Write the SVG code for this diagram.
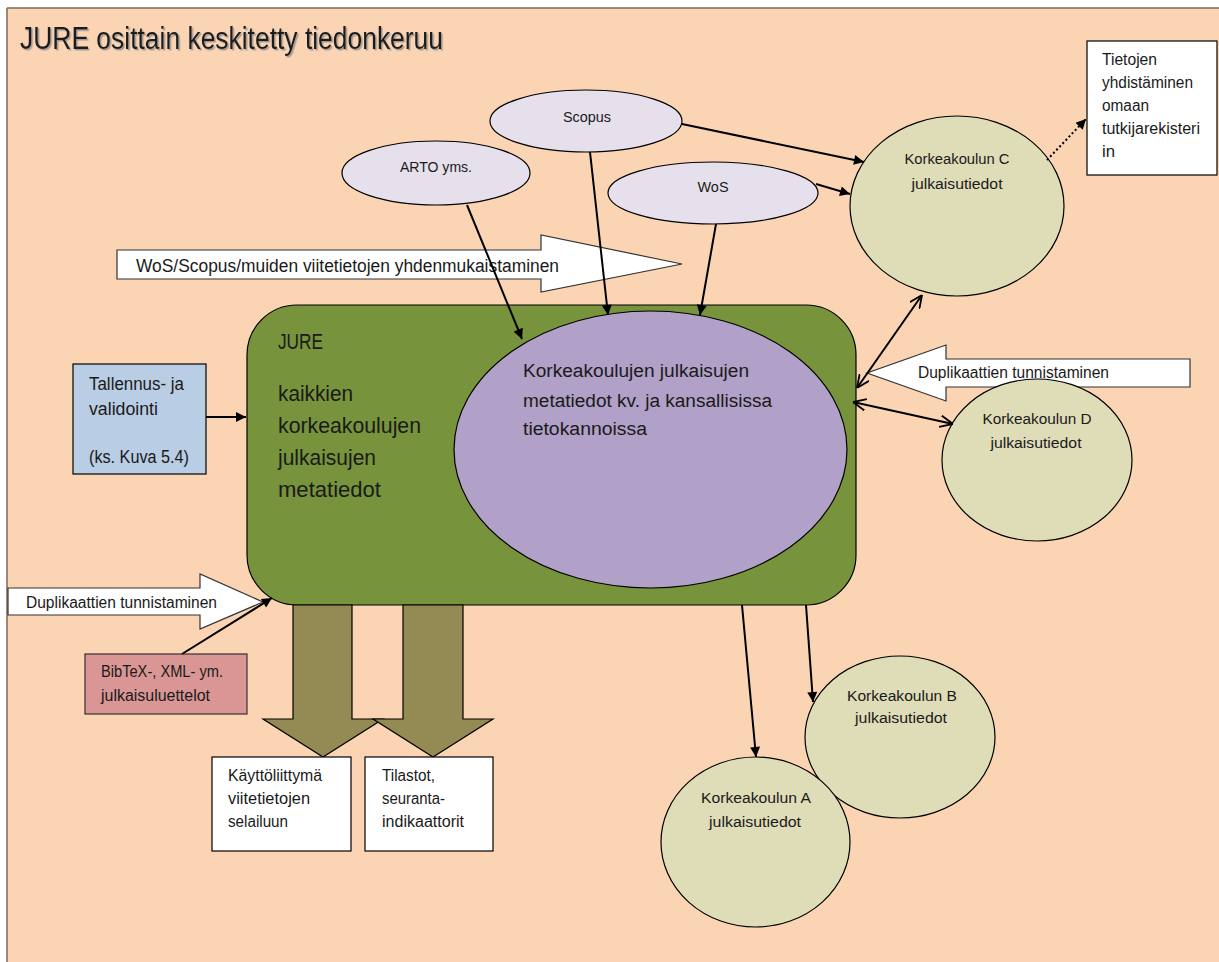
<svg xmlns="http://www.w3.org/2000/svg" width="1219" height="962" viewBox="0 0 1219 962">
<defs>
<style>
text{font-family:"Liberation Sans",Arial,sans-serif;fill:#1a1a1a}
.s14{font-size:15.5px}
.s15{font-size:16px}
.s16{font-size:17.5px}
.s18{font-size:18px}
.s19{font-size:18px}
.s20{font-size:21.5px}
.mid{text-anchor:middle}
.ln{stroke:#000;stroke-width:2;fill:none}
.src{fill:#E6E0EC;stroke:#000;stroke-width:1.2}
.uni{fill:#DFDCB8;stroke:#000;stroke-width:1.2}
.box{fill:#fff;stroke:#000;stroke-width:1.2}
.band{fill:#fff;stroke:#333;stroke-width:1.2}
.down{fill:#948A54;stroke:#000;stroke-width:1.2}
</style>
<marker id="ah" viewBox="0 0 10 10" refX="10" refY="5" markerWidth="12" markerHeight="10" markerUnits="userSpaceOnUse" orient="auto"><path d="M0,0 L10,5 L0,10 z" fill="#000"/></marker>
<marker id="oh" viewBox="0 0 10 10" refX="10" refY="5" markerWidth="13" markerHeight="13" markerUnits="userSpaceOnUse" orient="auto-start-reverse"><path d="M0,0.5 L10,5 L0,9.5" fill="none" stroke="#000" stroke-width="1.4"/></marker>
<filter id="sh" x="-5%" y="-20%" width="110%" height="150%"><feDropShadow dx="1.5" dy="1.5" stdDeviation="0.6" flood-color="#8a8a8a" flood-opacity="0.8"/></filter>
</defs>

<g id="background">
<rect x="7" y="8" width="1215" height="958" fill="#FBD4B4"/>
<line x1="7" y1="8" x2="1219" y2="8" stroke="#7F6A5A" stroke-width="1.5"/>
<line x1="7" y1="8" x2="7" y2="962" stroke="#7F6A5A" stroke-width="1.5"/>
<text x="20" y="49" style="font-size:31px" textLength="423" lengthAdjust="spacingAndGlyphs" filter="url(#sh)">JURE osittain keskitetty tiedonkeruu</text>
</g>

<g id="band-yhdenmukaistaminen">
<path class="band" d="M117,250 L541,250 L541,235 L682,264 L541,292 L541,279 L117,279 Z"/>
<text class="s18" x="136" y="272" textLength="423" lengthAdjust="spacingAndGlyphs">WoS/Scopus/muiden viitetietojen yhdenmukaistaminen</text>
</g>

<g id="jure">
<rect x="247" y="305" width="609" height="300" rx="50" ry="50" fill="#77933C" stroke="#000" stroke-width="1.2"/>
<text class="s20" x="278" y="349" textLength="45" lengthAdjust="spacingAndGlyphs">JURE</text>
<text class="s20" x="278" y="401" textLength="75" lengthAdjust="spacingAndGlyphs">kaikkien</text>
<text class="s20" x="278" y="433" textLength="143" lengthAdjust="spacingAndGlyphs">korkeakoulujen</text>
<text class="s20" x="278" y="465" textLength="98" lengthAdjust="spacingAndGlyphs">julkaisujen</text>
<text class="s20" x="278" y="497" textLength="103" lengthAdjust="spacingAndGlyphs">metatiedot</text>
</g>

<g id="tietokannat">
<ellipse cx="650.5" cy="449.5" rx="196.5" ry="138.5" fill="#B1A0C7" stroke="#000" stroke-width="1.2"/>
<text class="s19" x="523" y="377" textLength="226" lengthAdjust="spacingAndGlyphs">Korkeakoulujen julkaisujen</text>
<text class="s19" x="523" y="407" textLength="249" lengthAdjust="spacingAndGlyphs">metatiedot kv. ja kansallisissa</text>
<text class="s19" x="523" y="435" textLength="124" lengthAdjust="spacingAndGlyphs">tietokannoissa</text>
</g>

<g id="scopus">
<ellipse class="src" cx="586" cy="121" rx="96" ry="31"/>
<text class="s14 mid" x="587" y="122" textLength="48" lengthAdjust="spacingAndGlyphs">Scopus</text>
</g>
<g id="arto">
<ellipse class="src" cx="436" cy="173" rx="94" ry="32"/>
<text class="s14 mid" x="436" y="172" textLength="72" lengthAdjust="spacingAndGlyphs">ARTO yms.</text>
</g>
<g id="wos">
<ellipse class="src" cx="713" cy="193" rx="105" ry="31"/>
<text class="s14 mid" x="713" y="192" textLength="31" lengthAdjust="spacingAndGlyphs">WoS</text>
</g>

<g id="kk-c">
<ellipse class="uni" cx="957" cy="206" rx="107" ry="90"/>
<text class="s14 mid" x="957" y="164" textLength="105" lengthAdjust="spacingAndGlyphs">Korkeakoulun C</text>
<text class="s14 mid" x="957" y="189" textLength="91" lengthAdjust="spacingAndGlyphs">julkaisutiedot</text>
</g>

<g id="tietojen-yhdistaminen">
<rect class="box" x="1087" y="41" width="130" height="134"/>
<text class="s15" x="1102" y="65" textLength="55" lengthAdjust="spacingAndGlyphs">Tietojen</text>
<text class="s15" x="1102" y="88" textLength="91" lengthAdjust="spacingAndGlyphs">yhdistäminen</text>
<text class="s15" x="1102" y="111" textLength="47" lengthAdjust="spacingAndGlyphs">omaan</text>
<text class="s15" x="1102" y="134" textLength="98" lengthAdjust="spacingAndGlyphs">tutkijarekisteri</text>
<text class="s15" x="1102" y="157" textLength="13" lengthAdjust="spacingAndGlyphs">in</text>
</g>

<g id="band-duplikaatit-oikea">
<path class="band" d="M1190,359 L946,359 L946,345 L867,373 L946,401 L946,387 L1190,387 Z"/>
<text class="s15" x="918" y="378" textLength="191" lengthAdjust="spacingAndGlyphs">Duplikaattien tunnistaminen</text>
</g>

<g id="kk-d">
<ellipse class="uni" cx="1037" cy="460" rx="95" ry="81"/>
<text class="s14 mid" x="1037" y="424" textLength="109" lengthAdjust="spacingAndGlyphs">Korkeakoulun  D</text>
<text class="s14 mid" x="1036" y="448" textLength="91" lengthAdjust="spacingAndGlyphs">julkaisutiedot</text>
</g>

<g id="kk-b">
<ellipse class="uni" cx="900" cy="737" rx="95" ry="81"/>
<text class="s14 mid" x="902" y="701" textLength="110" lengthAdjust="spacingAndGlyphs">Korkeakoulun  B</text>
<text class="s14 mid" x="901" y="723" textLength="92" lengthAdjust="spacingAndGlyphs">julkaisutiedot</text>
</g>

<g id="kk-a">
<ellipse class="uni" cx="755.5" cy="842" rx="94.5" ry="85"/>
<text class="s14 mid" x="756" y="803" textLength="110" lengthAdjust="spacingAndGlyphs">Korkeakoulun  A</text>
<text class="s14 mid" x="755" y="827" textLength="92" lengthAdjust="spacingAndGlyphs">julkaisutiedot</text>
</g>

<g id="tallennus">
<rect x="73" y="364" width="133" height="110" fill="#B9CDE5" stroke="#000" stroke-width="1.2"/>
<text class="s16" x="89" y="390" textLength="95" lengthAdjust="spacingAndGlyphs">Tallennus- ja</text>
<text class="s16" x="89" y="415" textLength="69" lengthAdjust="spacingAndGlyphs">validointi</text>
<text class="s16" x="89" y="463" textLength="100" lengthAdjust="spacingAndGlyphs">(ks. Kuva 5.4)</text>
</g>

<g id="band-duplikaatit-vasen">
<path class="band" d="M8,588 L200,588 L200,574 L263,602 L200,629 L200,615 L8,615 Z"/>
<text class="s15" x="26" y="608" textLength="191" lengthAdjust="spacingAndGlyphs">Duplikaattien tunnistaminen</text>
</g>

<g id="bibtex">
<rect x="85" y="654" width="162" height="60" fill="#D99694" stroke="#333" stroke-width="1.2"/>
<text class="s15" x="101" y="677" textLength="122" lengthAdjust="spacingAndGlyphs">BibTeX-, XML- ym.</text>
<text class="s15" x="101" y="701" textLength="109" lengthAdjust="spacingAndGlyphs">julkaisuluettelot</text>
</g>

<g id="output-arrows">
<path class="down" d="M293,605 L352,605 L352,719 L383,719 L323,757 L263,719 L293,719 Z"/>
<path class="down" d="M403,605 L463,605 L463,719 L493,719 L433,757 L373,719 L403,719 Z"/>
</g>

<g id="kayttoliittyma">
<rect class="box" x="212" y="757" width="139" height="94"/>
<text class="s15" x="228" y="781" textLength="94" lengthAdjust="spacingAndGlyphs">Käyttöliittymä</text>
<text class="s15" x="228" y="804" textLength="82" lengthAdjust="spacingAndGlyphs">viitetietojen</text>
<text class="s15" x="228" y="827" textLength="60" lengthAdjust="spacingAndGlyphs">selailuun</text>
</g>

<g id="tilastot">
<rect class="box" x="365" y="757" width="128" height="94"/>
<text class="s15" x="382" y="781" textLength="53" lengthAdjust="spacingAndGlyphs">Tilastot,</text>
<text class="s15" x="382" y="804" textLength="63" lengthAdjust="spacingAndGlyphs">seuranta-</text>
<text class="s15" x="382" y="827" textLength="82" lengthAdjust="spacingAndGlyphs">indikaattorit</text>
</g>

<g id="connectors">
<line class="ln" x1="467" y1="205" x2="522" y2="339" marker-end="url(#ah)"/>
<line class="ln" x1="590" y1="152" x2="608" y2="315" marker-end="url(#ah)"/>
<line class="ln" x1="716" y1="224" x2="700" y2="315" marker-end="url(#ah)"/>
<line class="ln" x1="682" y1="124" x2="864" y2="162" stroke-width="2.5" marker-end="url(#ah)"/>
<line class="ln" x1="816" y1="184" x2="850" y2="194" marker-end="url(#ah)"/>
<line class="ln" x1="1047" y1="160" x2="1086" y2="119" stroke-width="1.5" stroke-dasharray="2,2.5" marker-end="url(#ah)"/>
<line class="ln" x1="206" y1="417" x2="246" y2="417" marker-end="url(#ah)"/>
<line class="ln" x1="182" y1="654" x2="272" y2="598" marker-end="url(#ah)"/>
<line class="ln" x1="742" y1="605" x2="756" y2="757" marker-end="url(#ah)"/>
<line class="ln" x1="806" y1="605" x2="813" y2="702" marker-end="url(#ah)"/>
<line class="ln" x1="857" y1="388" x2="922" y2="295" marker-start="url(#oh)" marker-end="url(#oh)"/>
<line class="ln" x1="853" y1="402" x2="953" y2="424" marker-start="url(#oh)" marker-end="url(#oh)"/>
</g>
</svg>
